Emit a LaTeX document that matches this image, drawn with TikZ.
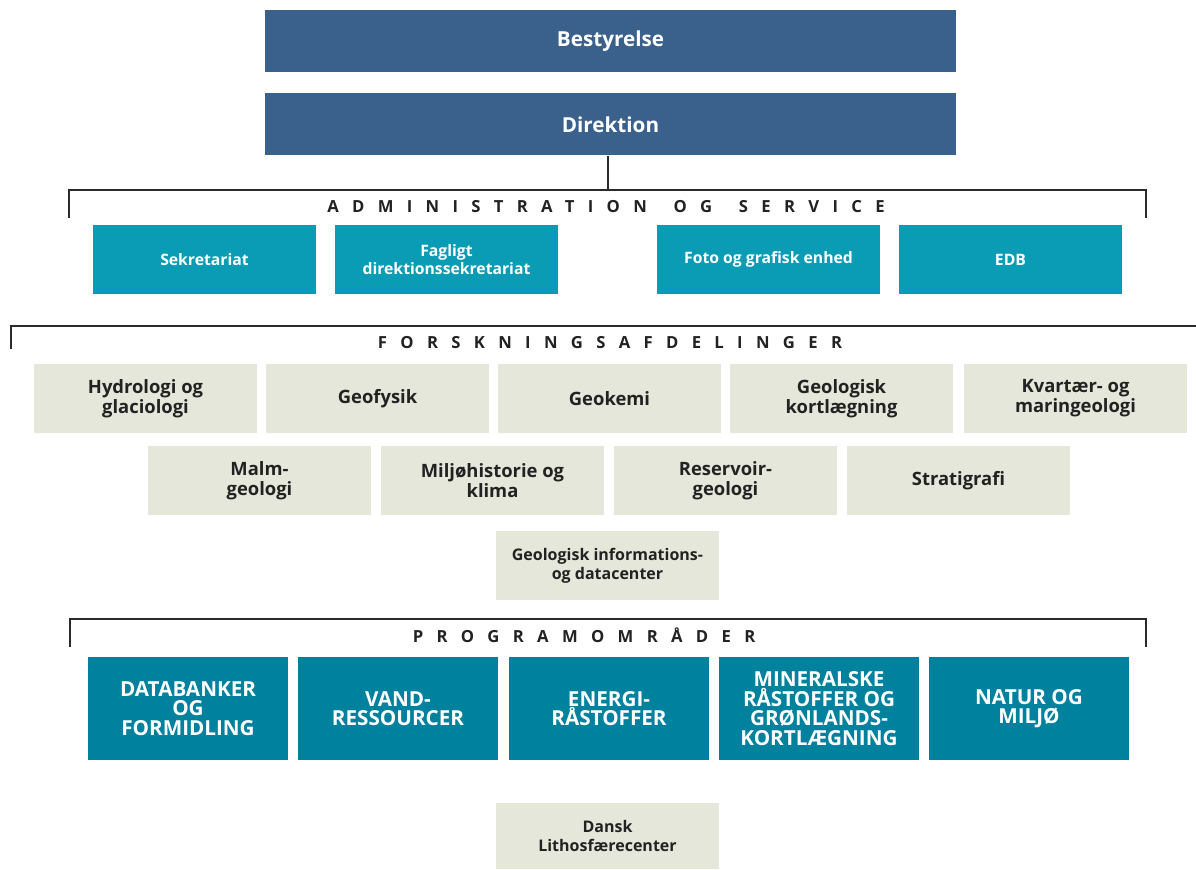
\documentclass[tikz,border=0pt]{standalone}
\usepackage{fontspec}
\setmainfont{Open Sans}
\newfontfamily\spacedfont[LetterSpace=80]{Open Sans}

\definecolor{topblue}{RGB}{58,97,140}
\definecolor{admteal}{RGB}{10,156,181}
\definecolor{progteal}{RGB}{0,129,158}
\definecolor{resbeige}{RGB}{229,231,218}
\definecolor{boxtext}{RGB}{34,34,34}
\definecolor{bracketgray}{RGB}{43,43,43}

\tikzset{every picture/.style={line width=0.75pt}}
\tikzset{
  topbox/.style={fill=topblue, text=white, inner sep=0pt, minimum width=518.25pt, minimum height=46.5pt, font=\bfseries\fontsize{15.5}{17}\selectfont},
  admbox/.style={fill=admteal, text=white, inner sep=0pt, align=center, minimum width=167.25pt, minimum height=51.75pt, font=\bfseries\fontsize{11.8}{13.5}\selectfont},
  resbox/.style={fill=resbeige, text=boxtext, inner sep=0pt, align=center, minimum width=167.25pt, minimum height=51.75pt, font=\bfseries\fontsize{13.8}{15}\selectfont},
  smallres/.style={resbox, font=\bfseries\fontsize{12}{14}\selectfont},
  progbox/.style={fill=progteal, text=white, inner sep=0pt, align=center, minimum width=150pt, minimum height=77.25pt, font=\bfseries\fontsize{15.5}{14.6}\selectfont},
  bracket/.style={draw=bracketgray, line width=1.5pt},
  heading/.style={text=boxtext, inner sep=0pt, font=\spacedfont\bfseries\fontsize{12.5}{14}\selectfont}
}

\begin{document}
\begin{tikzpicture}[x=0.75pt,y=0.75pt,yscale=-1,xscale=1]
  \useasboundingbox (0,0) rectangle (1196,870);

  % Top boxes
  \node[topbox] (best) at (610.5,41.5) {Bestyrelse};
  \node[topbox] (dir) at (610.5,124.5) {Direktion};

  %Straight Lines: brackets
  \coordinate (admtop) at (608,190);
  \draw[bracket] (admtop |- dir.south) -- (admtop);
  \draw[bracket] (69,218) -- (69,190) -- (1146,190) -- (1146,218);
  \draw[bracket] (11,349) -- (11,326) -- (1196,326);
  \draw[bracket] (70,647) -- (70,619) -- (1146,619) -- (1146,647);

  % Text Node
  \node[heading] (admhead) at (606,207) {ADMINISTRATION\hspace{20pt}OG\hspace{20pt}SERVICE};
  \node[heading] (reshead) at (610,343) {FORSKNINGSAFDELINGER};
  \node[heading] (proghead) at (584,635) {PROGRAMOMRÅDER};

  % Administration og service
  \node[admbox] (sek) at (204.5,259.5) {Sekretariat};
  \node[admbox] (fag) at (446.5,259.5) {Fagligt\\direktionssekretariat};
  \node[admbox] (foto) at (768.5,259.5) {Foto og grafisk enhed};
  \node[admbox] (edb) at (1010.5,259.5) {EDB};

  % Forskningsafdelinger
  \node[resbox] (hydro) at (145.5,398.5) {Hydrologi og\\glaciologi};
  \node[resbox] (geofys) at (377.5,398.5) {Geofysik};
  \node[resbox] (geokem) at (609.5,398.5) {Geokemi};
  \node[resbox] (kort) at (841.5,398.5) {Geologisk\\kortlægning};
  \node[resbox] (kvart) at (1075.5,398.5) {Kvartær- og\\maringeologi};
  \node[resbox] (malm) at (259.5,480.5) {Malm-\\geologi};
  \node[resbox] (miljo) at (492.5,480.5) {Miljøhistorie og\\klima};
  \node[resbox] (reserv) at (725.5,480.5) {Reservoir-\\geologi};
  \node[resbox] (strat) at (958.5,480.5) {Stratigrafi};
  \node[smallres] (geoinfo) at (607.5,565.5) {Geologisk informations-\\og datacenter};

  % Programomraader
  \node[progbox] (datab) at (188,708.5) {DATABANKER\\OG\\FORMIDLING};
  \node[progbox] (vand) at (398,708.5) {VAND-\\RESSOURCER};
  \node[progbox] (energi) at (609,708.5) {ENERGI-\\RÅSTOFFER};
  \node[progbox] (miner) at (819,708.5) {MINERALSKE\\RÅSTOFFER OG\\GRØNLANDS-\\KORTLÆGNING};
  \node[progbox] (natur) at (1029,708.5) {NATUR OG\\MILJØ};

  \node[smallres, minimum height=49.5pt] (litho) at (607.5,836) {Dansk\\Lithosfærecenter};

\end{tikzpicture}
\end{document}
